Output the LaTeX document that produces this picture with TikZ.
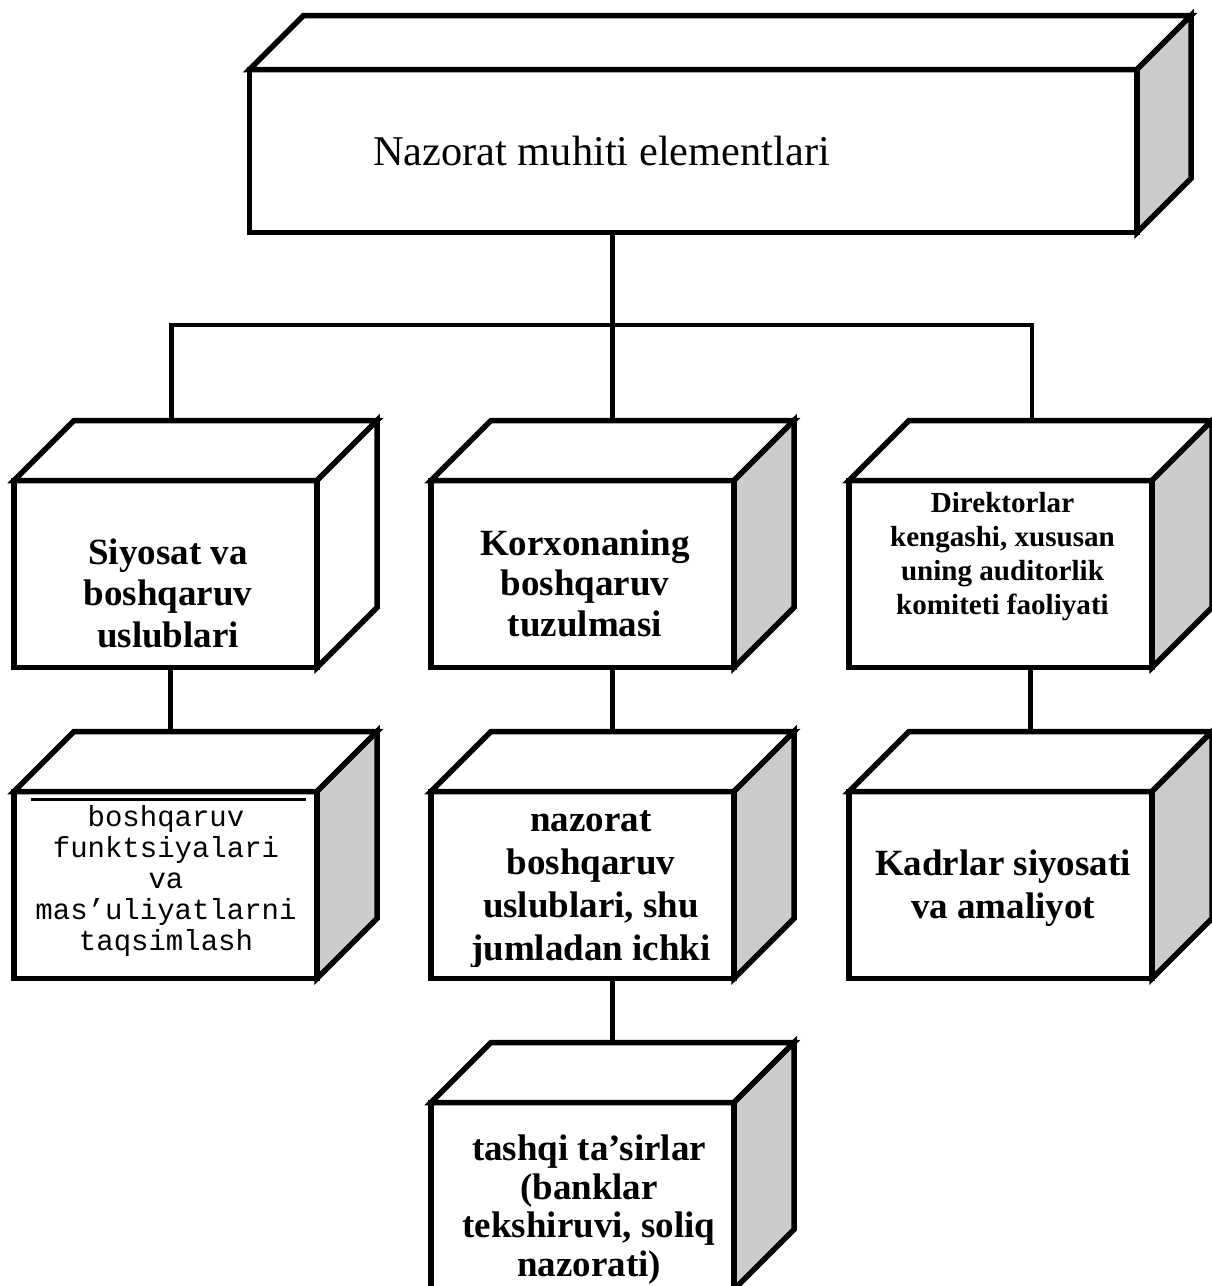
\documentclass[tikz,border=0pt]{standalone}
\usepackage{fontspec}
\setmainfont{Liberation Serif}
\setmonofont{Liberation Mono}
\usetikzlibrary{calc}
\definecolor{sidegray}{RGB}{204,204,204}
\newcommand{\cubefaces}[3]{%
  \draw[boxline, fill=white] (#1.north west) -- ++(#2,-#2)
      -- ($(#1.north east)+(#2,-#2)$) -- (#1.north east) -- cycle;
  \draw[boxline, fill=#3] (#1.north east) -- ++(#2,-#2)
      -- ($(#1.south east)+(#2,-#2)$) -- (#1.south east) -- cycle;
}

\begin{document}
\begin{tikzpicture}[x=1pt, y=-1pt,
    frontface/.style={draw, fill=white, line width=5.5pt,
                      outer sep=0pt, inner sep=0pt},
    cube/.style={frontface, minimum width=303pt,
                 minimum height=187pt},
    boxline/.style={line width=5.5pt, line join=miter},
    conn/.style={line width=4.5pt},
    boldtxt/.style={font=\fontsize{37}{41.5}\selectfont\bfseries,
                    align=center, anchor=base},
]
\useasboundingbox (0,0) rectangle (1211,1286);

% -- Boxes ----------------------------------
\node[frontface, minimum width=887.5pt, minimum height=163pt]
    (top) at (693.25,151) {};
\cubefaces{top}{54}{sidegray}

\node[cube] (siy)  at (165.5,574)  {};
\cubefaces{siy}{60}{white}
\node[cube] (korx) at (582.5,574)  {};
\cubefaces{korx}{60}{sidegray}
\node[cube] (dir)  at (1000.5,574) {};
\cubefaces{dir}{60}{sidegray}

\node[cube] (fun)  at (165.5,885)  {};
\cubefaces{fun}{60}{sidegray}
\node[cube] (naz)  at (582.5,885)  {};
\cubefaces{naz}{60}{sidegray}
\node[cube] (kad)  at (1000.5,885) {};
\cubefaces{kad}{60}{sidegray}

\node[cube] (tash) at (582.5,1196) {};
\cubefaces{tash}{60}{sidegray}

% -- Texts (base = last line) ---------------
\node[font=\fontsize{42.4}{50}\selectfont, anchor=base]
    (top-t) at (601.5,165) {Nazorat muhiti elementlari};
\node[boldtxt] (siy-t) at (168,647)
    {Siyosat va\\boshqaruv\\uslublari};
\node[boldtxt, font=\fontsize{37}{40.5}\selectfont\bfseries]
    (korx-t) at (585,636)
    {Korxonaning\\boshqaruv\\tuzulmasi};
\node[boldtxt, font=\fontsize{29.1}{33.7}\selectfont\bfseries]
    (dir-t) at (1002.5,614)
    {Direktorlar\\kengashi, xususan\\uning auditorlik\\komiteti faoliyati};

\draw[line width=2.5pt] ($(fun.north west)+(17,8)$)
    -- ($(fun.north east)+(-11,8)$);
\node[font=\fontsize{29}{31}\selectfont\ttfamily,
      align=center, anchor=base]
    (fun-t) at (166,950)
    {boshqaruv\\funktsiyalari\\va\\mas’uliyatlarni\\taqsimlash};

\begin{scope}
\clip (naz.north west) rectangle ($(naz.south east)+(0,-12)$);
\node[boldtxt, font=\fontsize{37}{42.7}\selectfont\bfseries]
    (naz-t) at (591,960)
    {nazorat\\boshqaruv\\uslublari, shu\\jumladan ichki};
\end{scope}

\node[boldtxt, font=\fontsize{37}{43}\selectfont\bfseries]
    (kad-t) at (1003,918)
    {Kadrlar siyosati\\va amaliyot};
\node[boldtxt, font=\fontsize{37}{38.5}\selectfont\bfseries]
    (tash-t) at (589,1276)
    {tashqi ta’sirlar\\(banklar\\tekshiruvi, soliq\\nazorati)};

% -- Connectors -----------------------------
\coordinate (bus)     at (612.5,325);
\coordinate (siy-in)  at ($(siy.north)+(6,-60)$);
\coordinate (korx-in) at ($(korx.north)+(30,-60)$);
\coordinate (dir-in)  at ($(dir.north)+(31.5,-60)$);
\coordinate (fun-in)  at ($(fun.north)+(5,-60)$);
\coordinate (naz-in)  at ($(naz.north)+(30,-60)$);
\coordinate (kad-in)  at ($(kad.north)+(30,-60)$);
\coordinate (tash-in) at ($(tash.north)+(30,-60)$);

\draw[conn] (top.south -| korx-in) -- (korx-in);
\draw[conn] (siy-in) -- (siy-in |- bus) -- (dir-in |- bus) -- (dir-in);
\draw[conn] (siy.south -| fun-in) -- (fun-in);
\draw[conn] (korx.south -| naz-in) -- (naz-in);
\draw[conn] (dir.south -| kad-in) -- (kad-in);
\draw[conn] (naz.south -| tash-in) -- (tash-in);

\end{tikzpicture}
\end{document}
